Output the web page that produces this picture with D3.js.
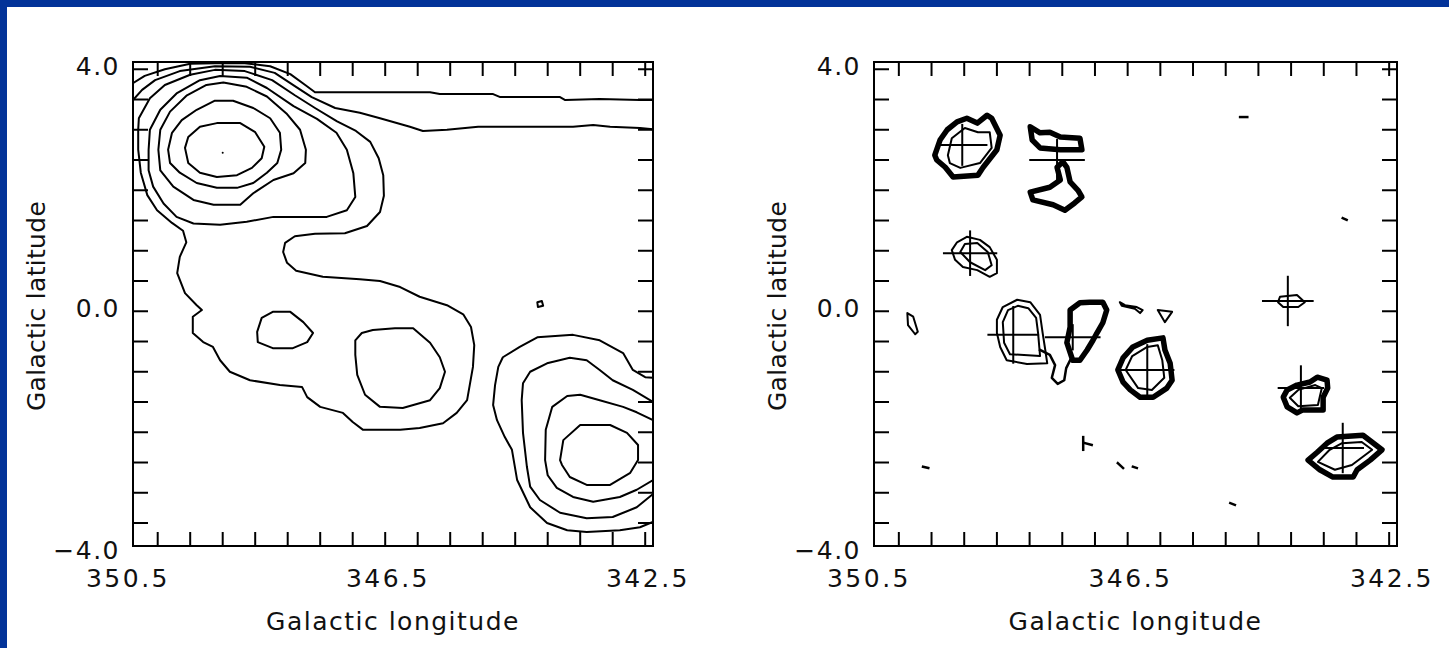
<!DOCTYPE html>
<html>
<head>
<meta charset="utf-8">
<script src="https://cdn.jsdelivr.net/npm/d3@7"></script>
<style>
  html, body { margin: 0; padding: 0; background: #fff; }
  svg { display: block; }
  text { font-family: "DejaVu Sans", sans-serif; fill: #111; }
</style>
</head>
<body>
<svg id="chart" width="1449" height="648"></svg>
<script>
// ---------- axes ----------
const lonDomain = [350.5, 342.5];
const latDomain = [-4.0, 4.0];
const lonLabels = [350.5, 346.5, 342.5];
const latLabels = [4.0, 0.0, -4.0];
const lonTicks = [350.12, 349.62, 349.12, 348.62, 348.12, 347.62, 347.12, 346.62,
                  346.12, 345.62, 345.12, 344.62, 344.12, 343.62, 343.12, 342.62];
const latTicks = [3.88, 3.38, 2.88, 2.38, 1.88, 1.38, 0.88, 0.38,
                  -0.12, -0.62, -1.12, -1.62, -2.12, -2.62, -3.12, -3.62];
const xTitle = "Galactic longitude";
const yTitle = "Galactic latitude";

// ---------- left map: smoothed emission, contours as [lon, lat] ----------
const ringA1 = [[349.70,2.58],[349.65,2.76],[349.47,2.93],[349.21,2.99],[348.85,2.99],[348.62,2.84],[348.48,2.60],[348.52,2.41],[348.67,2.25],[348.90,2.13],[349.21,2.10],[349.47,2.17],[349.65,2.33]];
const ringA2 = [[349.96,2.55],[349.90,2.83],[349.75,3.04],[349.52,3.21],[349.24,3.36],[348.96,3.36],[348.65,3.24],[348.39,3.07],[348.24,2.83],[348.22,2.55],[348.28,2.33],[348.44,2.17],[348.65,2.00],[348.90,1.92],[349.21,1.92],[349.52,2.00],[349.78,2.17],[349.93,2.33]];
const ringA3 = [[350.11,2.55],[350.08,2.88],[349.93,3.18],[349.67,3.45],[349.37,3.62],[349.11,3.66],[348.75,3.59],[348.44,3.43],[348.14,3.15],[347.93,2.88],[347.84,2.55],[347.85,2.33],[348.03,2.16],[348.34,2.05],[348.65,1.83],[348.85,1.64],[349.26,1.64],[349.57,1.72],[349.88,1.94],[350.08,2.21]];
const ringA4 = [[350.26,2.55],[350.24,2.88],[350.08,3.21],[349.83,3.48],[349.47,3.70],[349.16,3.77],[348.75,3.74],[348.44,3.57],[348.03,3.27],[347.67,3.06],[347.37,2.83],[347.21,2.55],[347.11,2.16],[347.08,1.77],[347.21,1.55],[347.52,1.44],[347.93,1.44],[348.34,1.44],[348.75,1.36],[349.16,1.31],[349.57,1.33],[349.83,1.44],[350.03,1.66],[350.19,1.94],[350.26,2.21]];
const ringEnvelope = [[350.41,3.07],[350.24,3.40],[350.01,3.62],[349.62,3.79],[349.24,3.87],[348.78,3.85],[348.36,3.70],[348.01,3.45],[347.70,3.24],[347.36,3.02],[347.07,2.86],[346.85,2.68],[346.72,2.41],[346.65,2.13],[346.64,1.79],[346.70,1.52],[346.90,1.29],[347.24,1.17],[347.70,1.16],[348.01,1.12],[348.16,1.01],[348.19,0.86],[348.13,0.68],[347.99,0.55],[347.58,0.45],[347.01,0.41],[346.70,0.38],[346.39,0.28],[346.09,0.12],[345.67,-0.02],[345.42,-0.17],[345.30,-0.38],[345.25,-0.68],[345.27,-1.04],[345.36,-1.59],[345.52,-1.80],[345.73,-1.97],[346.09,-2.05],[346.39,-2.08],[346.96,-2.08],[347.12,-1.95],[347.27,-1.80],[347.62,-1.70],[347.82,-1.54],[347.90,-1.37],[348.24,-1.34],[348.70,-1.26],[349.01,-1.12],[349.16,-0.93],[349.27,-0.71],[349.42,-0.63],[349.58,-0.48],[349.58,-0.21],[349.44,-0.10],[349.52,-0.02],[349.70,0.18],[349.82,0.51],[349.78,0.78],[349.68,1.02],[349.73,1.21],[349.90,1.34],[350.13,1.55],[350.28,1.80],[350.38,2.17],[350.42,2.55],[350.42,2.88]];
const ringB = [[348.59,-0.46],[348.52,-0.23],[348.35,-0.13],[348.08,-0.13],[347.88,-0.30],[347.73,-0.48],[347.82,-0.63],[348.04,-0.73],[348.35,-0.73],[348.58,-0.63]];
const ringC = [[347.08,-0.60],[346.98,-0.48],[346.81,-0.43],[346.47,-0.40],[346.19,-0.40],[345.93,-0.64],[345.78,-0.88],[345.70,-1.12],[345.78,-1.39],[345.93,-1.59],[346.35,-1.72],[346.70,-1.70],[346.93,-1.50],[347.05,-1.17],[347.08,-0.84]];
const ringD1 = [[343.93,-2.58],[343.88,-2.25],[343.62,-2.00],[343.16,-2.00],[342.90,-2.13],[342.73,-2.33],[342.73,-2.58],[342.85,-2.79],[343.16,-2.99],[343.52,-2.99],[343.78,-2.86],[343.90,-2.66]];
const ringKnot = [[344.28,0.03],[344.21,0.05],[344.19,-0.03],[344.27,-0.05]];
const lineTopOuter = [[350.50,3.65],[350.32,3.77],[350.01,3.88],[349.62,3.97],[349.24,3.98],[348.78,3.98],[348.39,3.93],[348.08,3.80],[347.85,3.62],[347.70,3.50],[347.01,3.50],[345.93,3.50],[345.78,3.47],[344.96,3.47],[344.85,3.42],[343.93,3.42],[343.85,3.37],[343.32,3.39],[342.70,3.37],[342.50,3.37]];
const lineTopInner = [[350.50,3.37],[350.36,3.54],[350.16,3.70],[349.78,3.85],[349.24,3.93],[348.70,3.92],[348.32,3.82],[348.01,3.60],[347.75,3.42],[347.39,3.24],[347.01,3.16],[346.70,3.07],[346.24,2.93],[346.04,2.86],[345.67,2.88],[345.19,2.93],[343.73,2.93],[343.42,2.96],[343.16,2.93],[342.70,2.91],[342.50,2.89]];
const lineD2 = [[342.50,-1.92],[342.75,-1.79],[342.96,-1.70],[343.32,-1.59],[343.62,-1.50],[343.82,-1.52],[344.05,-1.70],[344.15,-2.08],[344.16,-2.58],[344.12,-2.83],[343.98,-3.04],[343.73,-3.19],[343.42,-3.27],[343.01,-3.19],[342.75,-3.07],[342.50,-2.91]];
const lineD3 = [[342.50,-1.62],[342.81,-1.42],[343.12,-1.26],[343.32,-1.09],[343.52,-0.93],[343.78,-0.89],[344.13,-0.98],[344.39,-1.12],[344.50,-1.31],[344.52,-1.59],[344.50,-2.13],[344.44,-2.69],[344.39,-3.02],[344.24,-3.24],[343.93,-3.45],[343.52,-3.54],[343.12,-3.52],[342.75,-3.36],[342.50,-3.14]];
const lineD4 = [[342.50,-1.22],[342.62,-1.21],[342.81,-1.09],[342.96,-0.81],[343.32,-0.60],[343.73,-0.51],[344.28,-0.55],[344.55,-0.71],[344.81,-0.88],[344.88,-1.04],[344.93,-1.34],[344.96,-1.67],[344.90,-1.92],[344.78,-2.20],[344.67,-2.41],[344.59,-2.91],[344.39,-3.36],[344.13,-3.62],[343.82,-3.74],[343.52,-3.77],[343.01,-3.74],[342.70,-3.69],[342.50,-3.60]];
const leftPeaks = [[349.12, 2.50]];

// ---------- right map: compact sources, contours as [lon, lat] ----------
const srcR1 = [[349.57,2.46],[349.49,2.71],[349.38,2.88],[349.23,3.01],[349.08,3.07],[348.92,2.99],[348.77,3.12],[348.70,3.07],[348.57,2.79],[348.62,2.55],[348.83,2.26],[348.91,2.13],[349.29,2.10],[349.41,2.26],[349.54,2.38]];
const srcR1in = [[349.37,2.46],[349.31,2.74],[349.11,2.91],[348.91,2.84],[348.73,2.84],[348.70,2.58],[348.88,2.33],[349.18,2.25],[349.34,2.33]];
const srcR2top = [[348.11,2.93],[347.96,2.83],[347.81,2.84],[347.65,2.76],[347.35,2.74],[347.32,2.55],[347.65,2.55],[347.96,2.58],[348.08,2.71]];
const srcR2low = [[347.70,2.26],[347.65,2.05],[347.81,1.93],[348.11,1.85],[348.07,1.72],[347.76,1.64],[347.58,1.55],[347.43,1.67],[347.32,1.77],[347.38,1.88],[347.50,2.02],[347.55,2.26],[347.61,2.35]];
const srcR3 = [[349.31,0.89],[349.23,1.02],[349.08,1.11],[348.88,1.06],[348.73,0.94],[348.62,0.73],[348.62,0.51],[348.73,0.45],[348.92,0.56],[349.14,0.61],[349.26,0.73]];
const srcR3in = [[349.18,0.86],[349.11,0.99],[348.92,1.01],[348.76,0.86],[348.70,0.64],[348.80,0.56],[349.03,0.69]];
const srcR4 = [[348.62,-0.26],[348.53,-0.05],[348.31,0.07],[348.11,0.03],[347.96,-0.18],[347.92,-0.48],[347.88,-0.76],[347.85,-0.98],[348.16,-0.99],[348.47,-0.93],[348.57,-0.71],[348.62,-0.48]];
const srcR4in = [[348.53,-0.30],[348.45,-0.10],[348.30,-0.03],[348.14,-0.07],[348.02,-0.23],[347.99,-0.48],[347.96,-0.86],[348.42,-0.83],[348.51,-0.64]];
const srcR5 = [[347.50,-0.10],[347.35,0.02],[347.20,0.03],[347.00,0.03],[346.94,-0.10],[347.00,-0.31],[347.09,-0.48],[347.15,-0.60],[347.24,-0.76],[347.35,-0.93],[347.46,-0.93],[347.55,-0.64],[347.50,-0.38]];
const srcR6 = [[346.77,-1.09],[346.69,-0.89],[346.54,-0.71],[346.32,-0.60],[346.08,-0.56],[346.05,-0.76],[345.97,-0.98],[345.94,-1.26],[346.02,-1.39],[346.23,-1.54],[346.43,-1.54],[346.58,-1.42],[346.69,-1.29]];
const srcR6in = [[346.65,-1.09],[346.55,-0.86],[346.32,-0.71],[346.16,-0.68],[346.09,-0.93],[346.06,-1.22],[346.25,-1.42],[346.46,-1.39]];
const srcR7 = [[344.32,0.03],[344.29,0.12],[344.03,0.15],[343.91,0.03],[344.01,-0.05],[344.24,-0.05]];
const srcR8 = [[344.24,-1.54],[344.18,-1.42],[344.03,-1.34],[343.83,-1.29],[343.72,-1.21],[343.57,-1.26],[343.56,-1.39],[343.63,-1.54],[343.63,-1.75],[343.94,-1.75],[344.03,-1.80],[344.18,-1.70]];
const srcR8in = [[344.14,-1.55],[344.01,-1.42],[343.75,-1.34],[343.65,-1.39],[343.71,-1.67],[344.01,-1.69]];
const srcR9 = [[343.86,-2.58],[343.72,-2.45],[343.57,-2.30],[343.42,-2.20],[343.02,-2.17],[342.73,-2.41],[342.91,-2.58],[343.11,-2.74],[343.17,-2.86],[343.48,-2.86],[343.68,-2.74]];
const srcR9in = [[343.71,-2.61],[343.53,-2.41],[343.34,-2.30],[343.04,-2.28],[342.88,-2.41],[343.19,-2.66],[343.45,-2.74]];
const blobE1 = [[349.99,-0.15],[349.90,-0.21],[349.83,-0.46],[349.87,-0.50],[349.98,-0.35]];
const blobE8 = [[346.74,0.03],[346.66,-0.02],[346.48,-0.05],[346.39,-0.10],[346.43,-0.15],[346.51,-0.08],[346.71,-0.03]];
const blobE9 = [[346.16,-0.10],[345.94,-0.13],[346.05,-0.30]];
const tailR4 = [[347.96,-0.76],[347.81,-0.84],[347.73,-1.01],[347.78,-1.22],[347.69,-1.32],[347.59,-1.26],[347.56,-1.06],[347.50,-0.93]];
const specks = [
  [[349.75,-2.69],[349.67,-2.71]],
  [[347.30,-2.20],[347.30,-2.41]],
  [[347.27,-2.30],[347.17,-2.33]],
  [[346.77,-2.63],[346.69,-2.71]],
  [[346.54,-2.69],[346.48,-2.71]],
  [[345.05,-3.29],[344.98,-3.32]],
  [[344.90,3.09],[344.79,3.09]],
  [[343.33,1.42],[343.27,1.39]]
];
// catalogue positions with their error bars
const crossLon = [349.15, 347.70, 349.03, 348.37, 347.46, 346.32, 344.17, 343.97, 343.33];
const crossLat = [2.63, 2.38, 0.84, -0.51, -0.55, -1.09, 0.05, -1.39, -2.38];
const crossHalfLon = [0.37, 0.41, 0.40, 0.38, 0.41, 0.40, 0.38, 0.34, 0.31];
const crossHalfLat = [0.33, 0.33, 0.36, 0.46, 0.20, 0.41, 0.40, 0.36, 0.40];

const leftRings = [ringA1, ringA2, ringA3, ringA4, ringEnvelope, ringB, ringC, ringD1, ringKnot];
const leftLines = [lineTopOuter, lineTopInner, lineD2, lineD3, lineD4];
const rightHeavy = [srcR1, srcR2top, srcR2low, srcR5, srcR6, srcR8, srcR9];
const rightLight = [srcR1in, srcR3, srcR3in, srcR4, srcR4in, srcR6in, srcR7, srcR8in, srcR9in, blobE1, blobE8, blobE9];
const rightLines = [tailR4].concat(specks);

// ---------- layout ----------
const svg = d3.select("#chart");
const W = 1449, H = 648;
const plotTop = 62, plotBottom = 546;
const panels = [
  { id: "smooth", x0: 133, x1: 653 },
  { id: "compact", x0: 874, x1: 1397 }
];

svg.append("rect").attr("width", W).attr("height", H).attr("fill", "#fff");
svg.append("rect").attr("x", 0).attr("y", 0).attr("width", W).attr("height", 7).attr("fill", "#033399");
svg.append("rect").attr("x", 0).attr("y", 0).attr("width", 7).attr("height", H).attr("fill", "#033399");

const fmt = d3.format(".1f");

function drawPanel(p, draw) {
  const x = d3.scaleLinear().domain(lonDomain).range([p.x0, p.x1]);
  const y = d3.scaleLinear().domain(latDomain).range([plotBottom, plotTop]);
  const g = svg.append("g");

  g.append("clipPath").attr("id", "clip-" + p.id)
    .append("rect").attr("x", p.x0).attr("y", plotTop)
    .attr("width", p.x1 - p.x0).attr("height", plotBottom - plotTop);
  const plot = g.append("g").attr("clip-path", "url(#clip-" + p.id + ")")
    .attr("fill", "none").attr("stroke", "#000")
    .attr("stroke-linejoin", "round").attr("stroke-linecap", "square");

  const closed = d3.line().x(d => x(d[0])).y(d => y(d[1])).curve(d3.curveLinearClosed);
  const open = d3.line().x(d => x(d[0])).y(d => y(d[1]));
  draw(plot, x, y, closed, open);

  // frame and inward ticks on all four sides
  const ax = g.append("g").attr("stroke", "#000").attr("stroke-width", 2).attr("fill", "none");
  ax.append("rect").attr("x", p.x0).attr("y", plotTop)
    .attr("width", p.x1 - p.x0).attr("height", plotBottom - plotTop);
  const tl = 14;
  lonTicks.forEach(v => {
    ax.append("line").attr("x1", x(v)).attr("x2", x(v)).attr("y1", plotBottom).attr("y2", plotBottom - tl);
    ax.append("line").attr("x1", x(v)).attr("x2", x(v)).attr("y1", plotTop).attr("y2", plotTop + tl);
  });
  latTicks.forEach(v => {
    ax.append("line").attr("x1", p.x0).attr("x2", p.x0 + tl + 1).attr("y1", y(v)).attr("y2", y(v));
    ax.append("line").attr("x1", p.x1).attr("x2", p.x1 - tl - 1).attr("y1", y(v)).attr("y2", y(v));
  });

  // tick labels
  g.selectAll(".latlab").data(latLabels).join("text")
    .attr("x", p.x0 - 13).attr("y", d => y(d) + 13)
    .attr("text-anchor", "end").attr("font-size", 25).attr("letter-spacing", 1.5)
    .text(d => fmt(d));
  g.selectAll(".lonlab").data(lonLabels).join("text")
    .attr("x", d => x(d) - 5).attr("y", 587)
    .attr("text-anchor", "middle").attr("font-size", 25).attr("letter-spacing", 2.5)
    .text(d => fmt(d));

  // axis titles
  g.append("text")
    .attr("x", (p.x0 + p.x1) / 2).attr("y", 630)
    .attr("text-anchor", "middle").attr("font-size", 25).attr("letter-spacing", 1.5)
    .text(xTitle);
  g.append("text")
    .attr("transform", `translate(${p.x0 - 88},306) rotate(-90)`)
    .attr("text-anchor", "middle").attr("font-size", 25).attr("letter-spacing", 0.3)
    .text(yTitle);
}

drawPanel(panels[0], (plot, x, y, closed, open) => {
  plot.selectAll(".ring").data(leftRings).join("path")
    .attr("d", closed).attr("stroke-width", 2);
  plot.selectAll(".line").data(leftLines).join("path")
    .attr("d", open).attr("stroke-width", 2);
  plot.selectAll(".peak").data(leftPeaks).join("circle")
    .attr("cx", d => x(d[0])).attr("cy", d => y(d[1])).attr("r", 1)
    .attr("fill", "#000").attr("stroke", "none");
});

drawPanel(panels[1], (plot, x, y, closed, open) => {
  plot.selectAll(".heavy").data(rightHeavy).join("path")
    .attr("d", closed).attr("stroke-width", 5.5);
  plot.selectAll(".light").data(rightLight).join("path")
    .attr("d", closed).attr("stroke-width", 2);
  plot.selectAll(".bit").data(rightLines).join("path")
    .attr("d", open).attr("stroke-width", 2.5);
  const crosses = plot.selectAll(".cross").data(crossLon.map((v, i) => i)).join("g");
  crosses.append("line")
    .attr("x1", i => x(crossLon[i] + crossHalfLon[i])).attr("x2", i => x(crossLon[i] - crossHalfLon[i]))
    .attr("y1", i => y(crossLat[i])).attr("y2", i => y(crossLat[i]))
    .attr("stroke-width", 2);
  crosses.append("line")
    .attr("x1", i => x(crossLon[i])).attr("x2", i => x(crossLon[i]))
    .attr("y1", i => y(crossLat[i] + crossHalfLat[i])).attr("y2", i => y(crossLat[i] - crossHalfLat[i]))
    .attr("stroke-width", 2);
});
</script>
</body>
</html>
